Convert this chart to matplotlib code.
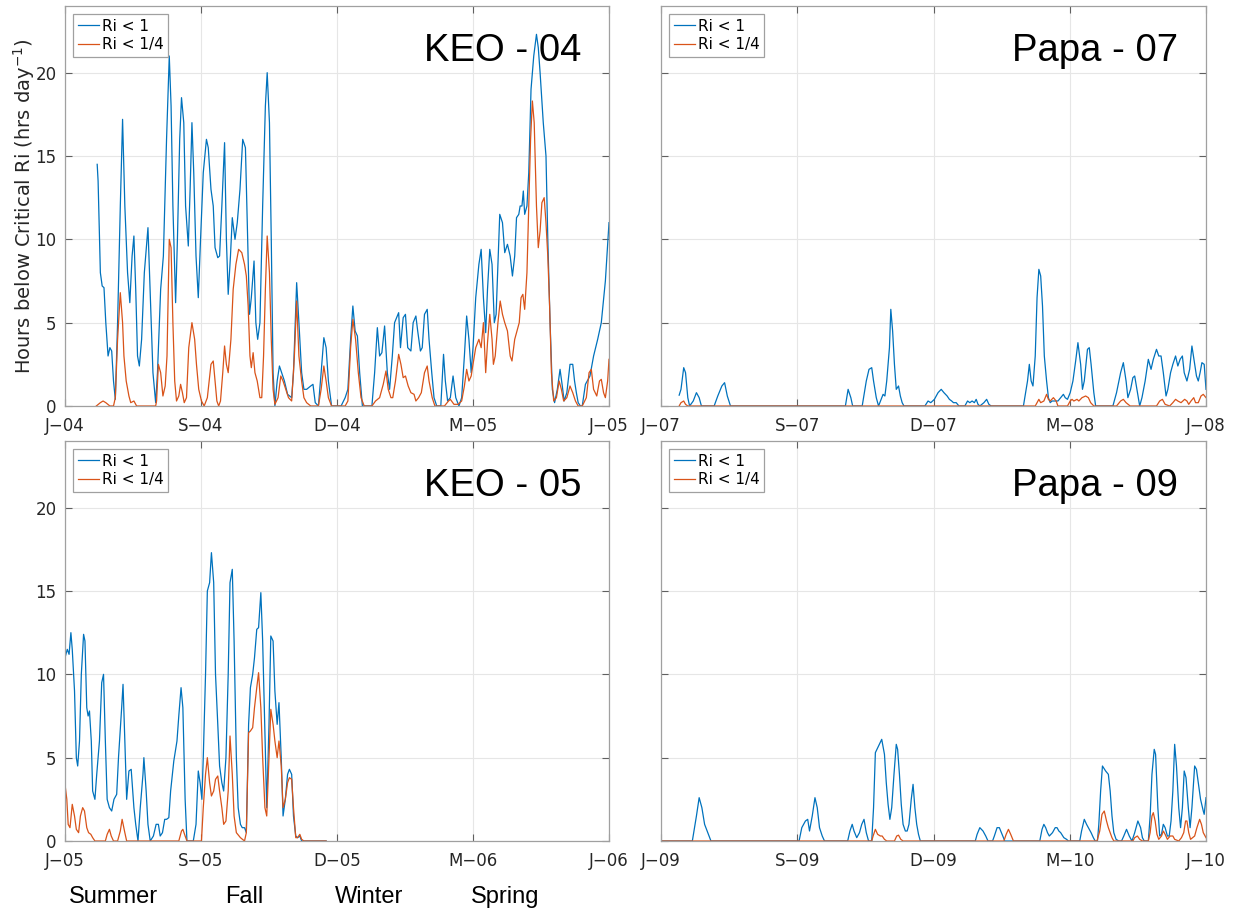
import matplotlib
matplotlib.use('Agg')
import matplotlib.pyplot as plt

# x = months since 1 June of the deployment year, y = hours per day
keo04_ri1 = [(0.71,14.5),(0.73,13.5),(0.78,8.0),(0.82,7.2),(0.86,7.1),(0.90,5.0),(0.95,3.0),(0.99,3.5),(1.03,3.3),
    (1.07,1.5),(1.11,0.4),(1.16,5.0),(1.22,12.0),(1.27,17.2),(1.32,12.0),(1.38,8.0),(1.43,6.2),(1.48,9.0),(1.52,10.2),
    (1.56,7.0),(1.60,3.0),(1.64,2.4),(1.69,4.0),(1.75,8.0),(1.83,10.7),(1.89,6.0),(1.94,2.0),(2.00,0.2),(2.04,2.0),
    (2.11,7.0),(2.17,9.0),(2.24,16.0),(2.30,21.0),(2.34,18.0),(2.38,12.0),(2.44,6.2),(2.48,10.0),(2.53,16.0),(2.57,18.5),
    (2.62,17.0),(2.66,12.0),(2.72,9.6),(2.76,13.0),(2.80,17.0),(2.84,14.0),(2.89,9.0),(2.94,6.5),(2.99,10.0),(3.05,14.0),
    (3.12,16.0),(3.16,15.5),(3.22,13.0),(3.27,12.0),(3.31,9.5),(3.37,8.9),(3.41,9.0),(3.46,12.0),(3.52,15.8),(3.56,10.0),
    (3.60,6.7),(3.65,9.0),(3.69,11.3),(3.75,10.0),(3.80,11.0),(3.86,13.0),(3.92,16.0),(3.98,15.5),(4.03,10.0),(4.07,5.5),
    (4.11,6.5),(4.17,8.7),(4.21,5.0),(4.25,4.0),(4.30,5.0),(4.36,12.0),(4.42,18.0),(4.46,20.0),(4.51,17.0),(4.55,10.0),
    (4.59,2.0),(4.63,0.0),(4.68,1.5),(4.73,2.4),(4.78,2.0),(4.84,1.5),(4.91,0.7),(5.00,0.5),(5.04,2.0),(5.08,5.0),
    (5.11,7.4),(5.16,5.0),(5.22,2.0),(5.27,1.0),(5.33,1.0),(5.42,1.2),(5.47,1.3),(5.52,0.2),(5.59,0.0),(5.65,2.0),
    (5.71,4.1),(5.76,3.5),(5.81,1.5),(5.88,0.0),(6.09,0.0),(6.18,0.5),(6.24,1.0),(6.30,4.0),(6.35,6.0),(6.40,4.5),
    (6.45,4.2),(6.50,2.0),(6.56,0.0),(6.77,0.0),(6.83,2.0),(6.89,4.7),(6.94,3.0),(6.99,3.2),(7.05,4.8),(7.11,2.0),
    (7.16,1.0),(7.22,3.0),(7.27,5.0),(7.36,5.6),(7.40,3.5),(7.46,5.3),(7.51,5.5),(7.56,3.5),(7.63,3.3),(7.68,5.0),
    (7.74,5.4),(7.78,4.5),(7.84,3.3),(7.88,3.5),(7.93,5.5),(7.99,5.8),(8.03,4.0),(8.09,2.0),(8.14,0.5),(8.20,0.0),
    (8.29,0.0),(8.35,3.1),(8.39,1.5),(8.44,0.3),(8.50,0.5),(8.56,1.8),(8.62,0.5),(8.69,0.0),(8.75,0.5),(8.81,3.0),
    (8.86,5.4),(8.91,4.0),(8.96,2.0),(9.00,3.5),(9.06,6.5),(9.13,8.5),(9.18,9.4),(9.23,6.5),(9.28,4.4),(9.32,7.0),
    (9.37,9.4),(9.42,8.5),(9.47,5.0),(9.51,5.5),(9.55,8.5),(9.59,11.5),(9.65,11.0),(9.70,9.2),(9.76,9.7),(9.82,9.0),
    (9.87,7.8),(9.92,9.0),(9.96,11.3),(10.01,11.5),(10.04,12.0),(10.08,12.0),(10.11,12.9),(10.14,11.5),(10.19,12.0),
    (10.23,14.0),(10.28,19.0),(10.34,21.0),(10.40,22.3),(10.44,21.5),(10.48,20.0),(10.55,17.0),(10.61,15.0),(10.65,10.0),
    (10.70,5.0),(10.75,1.0),(10.80,0.2),(10.86,1.0),(10.92,2.2),(10.97,1.2),(11.01,0.3),(11.07,0.8),(11.14,2.5),
    (11.20,2.5),(11.24,1.5),(11.28,0.8),(11.32,0.2),(11.37,0.0),(11.41,0.0),(11.48,1.3),(11.58,1.8),(11.66,3.0),
    (11.75,4.0),(11.83,5.0),(11.92,7.5),(12.00,11.0)]
keo04_ri14 = [(0.69,0.0),(0.78,0.2),(0.84,0.3),(0.90,0.2),(0.99,0.0),(1.07,0.0),(1.11,0.5),(1.16,4.0),(1.22,6.8),
    (1.27,5.0),(1.30,3.0),(1.35,1.5),(1.41,0.6),(1.45,0.2),(1.52,0.3),(1.58,0.0),(2.00,0.0),(2.02,0.3),(2.06,2.5),
    (2.11,2.0),(2.16,0.6),(2.21,1.2),(2.25,3.0),(2.30,10.0),(2.34,9.5),(2.38,5.0),(2.42,1.5),(2.46,0.3),(2.51,0.6),
    (2.55,1.3),(2.59,0.8),(2.63,0.2),(2.68,0.5),(2.73,3.5),(2.80,5.0),(2.86,4.0),(2.90,2.5),(2.95,1.0),(3.01,0.3),
    (3.07,0.0),(3.14,0.5),(3.22,2.5),(3.27,2.7),(3.31,1.5),(3.35,0.3),(3.39,0.0),(3.43,0.3),(3.48,2.0),(3.52,3.6),
    (3.56,2.5),(3.60,2.0),(3.66,4.0),(3.71,7.0),(3.77,8.5),(3.83,9.4),(3.90,9.2),(3.96,8.5),(4.00,7.8),(4.04,6.0),
    (4.08,3.0),(4.11,2.3),(4.15,3.2),(4.19,2.0),(4.24,1.5),(4.30,0.5),(4.34,0.5),(4.38,3.0),(4.42,7.0),(4.46,10.2),
    (4.51,8.0),(4.55,4.0),(4.59,1.0),(4.63,0.1),(4.70,0.5),(4.76,1.8),(4.81,1.5),(4.87,1.0),(4.93,0.5),(5.00,0.3),
    (5.06,3.0),(5.11,6.3),(5.16,3.0),(5.22,1.5),(5.27,0.5),(5.33,0.2),(5.42,0.0),(5.59,0.0),(5.65,1.0),(5.71,2.4),
    (5.76,1.5),(5.81,0.5),(5.88,0.0),(6.18,0.0),(6.24,0.3),(6.30,3.5),(6.35,5.2),(6.41,4.0),(6.47,2.0),(6.53,0.5),
    (6.60,0.0),(6.77,0.0),(6.85,0.3),(6.94,0.5),(7.02,1.3),(7.08,2.1),(7.13,1.0),(7.19,0.5),(7.23,0.5),(7.29,1.5),
    (7.36,3.1),(7.41,2.5),(7.46,1.7),(7.51,1.8),(7.57,1.2),(7.63,0.8),(7.70,0.7),(7.74,0.3),(7.80,0.5),(7.86,0.8),
    (7.93,2.0),(7.99,2.4),(8.03,1.5),(8.10,0.5),(8.16,0.0),(8.37,0.0),(8.46,0.3),(8.50,0.4),(8.58,0.1),(8.67,0.1),
    (8.75,0.3),(8.81,1.2),(8.86,2.2),(8.91,1.5),(8.96,1.8),(9.00,2.5),(9.06,3.5),(9.13,4.0),(9.18,3.5),(9.23,5.0),
    (9.28,2.0),(9.32,3.8),(9.37,5.5),(9.42,4.0),(9.45,2.5),(9.49,3.0),(9.55,5.0),(9.60,6.3),(9.65,5.5),(9.70,5.0),
    (9.76,4.5),(9.82,3.0),(9.86,2.7),(9.92,4.0),(9.96,4.4),(10.02,5.0),(10.06,6.5),(10.10,6.7),(10.14,5.8),(10.19,8.0),
    (10.23,12.0),(10.27,16.0),(10.31,18.3),(10.35,17.0),(10.40,12.0),(10.44,9.5),(10.48,10.5),(10.52,12.2),(10.57,12.5),
    (10.61,11.0),(10.65,9.0),(10.69,6.0),(10.73,2.0),(10.78,0.3),(10.84,0.5),(10.90,1.5),(10.95,1.0),(11.00,0.3),
    (11.07,0.5),(11.14,1.2),(11.20,0.8),(11.26,0.3),(11.32,0.0),(11.41,0.0),(11.50,0.5),(11.56,2.0),(11.61,2.2),
    (11.66,1.0),(11.73,0.6),(11.79,1.5),(11.83,1.6),(11.88,0.8),(11.92,0.5),(11.97,1.5),(12.00,2.8)]

papa07_ri1 = [(0.40,0.65),(0.44,1.0),(0.50,2.3),(0.54,2.0),(0.59,0.5),(0.63,0.0),(0.71,0.3),(0.78,0.8),(0.84,0.5),
    (0.89,0.0),(1.17,0.0),(1.25,0.6),(1.34,1.2),(1.40,1.4),(1.46,0.6),(1.53,0.0),(4.06,0.0),(4.12,1.0),(4.18,0.5),
    (4.22,0.0),(4.43,0.0),(4.52,1.5),(4.58,2.2),(4.64,2.3),(4.68,1.5),(4.74,0.5),(4.79,0.0),(4.86,0.5),(4.89,0.7),
    (4.93,0.6),(4.97,1.5),(5.03,3.5),(5.06,5.8),(5.10,4.5),(5.14,2.5),(5.18,1.0),(5.23,1.2),(5.27,0.6),(5.31,0.2),
    (5.35,0.0),(5.81,0.0),(5.88,0.3),(5.94,0.2),(6.02,0.4),(6.10,0.8),(6.17,1.0),(6.23,0.8),(6.30,0.6),(6.35,0.4),
    (6.40,0.3),(6.44,0.2),(6.50,0.2),(6.56,0.0),(6.69,0.0),(6.75,0.3),(6.80,0.2),(6.85,0.3),(6.90,0.2),(6.94,0.4),
    (6.98,0.1),(7.02,0.0),(7.11,0.2),(7.17,0.4),(7.22,0.1),(7.27,0.0),(7.98,0.0),(8.07,1.5),(8.11,2.5),(8.15,1.5),
    (8.19,1.2),(8.24,3.0),(8.28,6.5),(8.32,8.2),(8.36,7.8),(8.40,6.0),(8.44,3.0),(8.49,1.5),(8.53,0.5),(8.57,0.2),
    (8.61,0.3),(8.70,0.3),(8.74,0.3),(8.80,0.5),(8.86,0.7),(8.90,0.5),(8.95,0.4),(9.01,0.8),(9.07,1.5),(9.13,2.7),
    (9.18,3.8),(9.24,2.5),(9.28,1.0),(9.32,1.5),(9.39,3.4),(9.43,3.5),(9.47,2.5),(9.53,0.8),(9.57,0.0),(9.95,0.0),
    (10.03,0.8),(10.12,2.0),(10.18,2.6),(10.24,1.5),(10.28,0.5),(10.34,1.0),(10.39,1.7),(10.43,1.8),(10.49,0.8),
    (10.54,0.0),(10.59,0.5),(10.66,1.5),(10.73,2.8),(10.79,2.2),(10.84,2.8),(10.91,3.4),(10.96,3.0),(11.01,3.0),
    (11.06,2.0),(11.12,0.6),(11.16,1.0),(11.22,2.0),(11.27,2.5),(11.33,3.0),(11.38,2.4),(11.43,2.8),(11.48,3.0),
    (11.52,2.0),(11.58,1.5),(11.64,2.2),(11.69,3.6),(11.75,2.5),(11.79,1.8),(11.83,1.5),(11.87,2.0),(11.91,2.6),
    (11.96,2.5),(12.00,1.0)]
papa07_ri14 = [(0.40,0.0),(0.44,0.2),(0.50,0.3),(0.54,0.1),(0.59,0.0),(8.24,0.0),(8.28,0.2),(8.32,0.4),(8.36,0.2),
    (8.43,0.3),(8.49,0.7),(8.53,0.4),(8.57,0.3),(8.64,0.5),(8.70,0.3),(8.74,0.0),(8.95,0.0),(9.01,0.3),(9.05,0.4),
    (9.09,0.3),(9.16,0.4),(9.20,0.3),(9.27,0.5),(9.35,0.6),(9.41,0.5),(9.46,0.2),(9.53,0.0),(10.03,0.0),(10.12,0.3),
    (10.18,0.4),(10.24,0.2),(10.33,0.0),(10.91,0.0),(10.98,0.3),(11.04,0.4),(11.10,0.1),(11.20,0.0),(11.27,0.2),
    (11.33,0.4),(11.38,0.3),(11.45,0.2),(11.53,0.4),(11.58,0.3),(11.62,0.1),(11.67,0.3),(11.73,0.5),(11.77,0.2),
    (11.83,0.2),(11.89,0.6),(11.94,0.7),(12.00,0.5)]

keo05_ri1 = [(0.00,11.0),(0.05,11.5),(0.09,11.2),(0.13,12.5),(0.16,11.5),(0.21,9.0),(0.25,5.0),(0.28,4.5),(0.32,6.0),
    (0.36,10.0),(0.41,12.4),(0.44,12.0),(0.48,8.0),(0.51,7.5),(0.54,7.8),(0.58,6.0),(0.61,3.0),(0.66,2.5),(0.70,4.0),
    (0.76,6.0),(0.81,9.5),(0.85,10.0),(0.89,6.0),(0.93,2.5),(0.98,2.0),(1.03,1.8),(1.08,2.5),(1.14,2.8),(1.18,5.0),
    (1.25,8.0),(1.28,9.4),(1.32,6.0),(1.36,2.5),(1.41,4.2),(1.46,4.3),(1.52,2.0),(1.56,1.0),(1.61,0.0),(1.66,2.0),
    (1.72,4.0),(1.74,5.0),(1.79,3.0),(1.83,1.0),(1.88,0.0),(1.95,0.3),(2.01,1.0),(2.06,1.0),(2.10,0.3),(2.15,0.5),
    (2.20,1.3),(2.24,1.3),(2.29,1.4),(2.33,3.0),(2.40,4.8),(2.47,6.0),(2.51,7.5),(2.56,9.2),(2.60,8.0),(2.65,2.5),
    (2.69,0.0),(2.83,0.0),(2.89,1.0),(2.94,4.2),(2.98,3.5),(3.02,2.5),(3.05,5.0),(3.10,10.0),(3.14,15.0),(3.19,15.5),
    (3.23,17.3),(3.28,15.5),(3.32,10.0),(3.37,7.0),(3.41,4.5),(3.46,3.5),(3.50,3.0),(3.55,5.0),(3.60,10.0),(3.64,15.5),
    (3.69,16.3),(3.73,12.0),(3.78,5.0),(3.82,2.0),(3.87,1.0),(3.91,0.8),(3.96,0.8),(4.00,0.5),(4.05,7.0),(4.09,9.2),
    (4.14,10.0),(4.18,11.0),(4.23,12.7),(4.27,12.8),(4.32,14.9),(4.36,12.0),(4.41,6.5),(4.45,2.0),(4.50,7.0),
    (4.54,12.3),(4.59,12.0),(4.63,9.0),(4.68,7.0),(4.72,8.3),(4.77,5.0),(4.81,1.5),(4.86,2.5),(4.91,4.0),(4.95,4.3),
    (5.00,4.0),(5.04,1.5),(5.09,0.3),(5.13,0.2),(5.18,0.3),(5.22,0.0),(5.76,0.0)]
keo05_ri14 = [(0.00,3.4),(0.04,2.5),(0.07,1.0),(0.11,0.8),(0.16,2.2),(0.21,1.5),(0.25,0.7),(0.30,0.5),(0.34,1.5),
    (0.39,2.0),(0.43,1.8),(0.48,0.8),(0.52,0.5),(0.57,0.4),(0.61,0.2),(0.66,0.0),(0.89,0.0),(0.93,0.4),(0.98,0.7),
    (1.02,0.3),(1.07,0.0),(1.16,0.0),(1.22,0.6),(1.26,1.3),(1.32,0.5),(1.36,0.0),(2.51,0.0),(2.57,0.6),(2.60,0.7),
    (2.65,0.3),(2.69,0.0),(3.01,0.0),(3.05,2.0),(3.10,4.0),(3.14,5.0),(3.19,3.5),(3.23,2.7),(3.28,3.0),(3.32,3.7),
    (3.37,3.9),(3.41,3.0),(3.46,2.0),(3.50,1.0),(3.55,1.2),(3.60,3.0),(3.64,6.3),(3.69,4.0),(3.73,1.5),(3.78,0.5),
    (3.87,0.2),(3.96,0.0),(4.00,0.5),(4.05,6.5),(4.09,6.6),(4.14,6.8),(4.18,8.0),(4.23,9.2),(4.27,10.1),(4.32,8.0),
    (4.36,5.0),(4.41,2.0),(4.45,1.5),(4.50,5.0),(4.54,7.9),(4.59,7.0),(4.63,6.0),(4.68,5.0),(4.72,6.0),(4.77,4.5),
    (4.81,2.0),(4.86,2.5),(4.91,3.5),(4.95,3.8),(5.00,3.7),(5.04,2.0),(5.09,0.2),(5.13,0.2),(5.18,0.4),(5.22,0.1),
    (5.27,0.0),(5.76,0.0)]

papa09_ri1 = [(0.00,0.0),(0.69,0.0),(0.78,1.5),(0.84,2.6),(0.90,2.0),(0.96,1.0),(1.03,0.5),(1.10,0.0),(3.04,0.0),
    (3.10,0.8),(3.18,1.2),(3.23,1.3),(3.27,0.6),(3.33,1.5),(3.39,2.6),(3.44,2.0),(3.49,0.8),(3.55,0.3),(3.60,0.0),
    (4.11,0.0),(4.16,0.6),(4.21,1.0),(4.25,0.6),(4.31,0.2),(4.37,0.5),(4.42,1.0),(4.47,1.3),(4.52,0.5),(4.57,0.0),
    (4.64,0.0),(4.68,2.0),(4.72,5.3),(4.79,5.7),(4.86,6.1),(4.92,5.2),(4.96,3.5),(5.00,2.2),(5.04,1.3),(5.08,2.0),
    (5.13,4.0),(5.18,5.8),(5.21,5.5),(5.25,4.0),(5.29,2.2),(5.33,1.0),(5.38,0.6),(5.42,0.6),(5.46,1.0),(5.51,2.5),
    (5.55,3.4),(5.59,2.0),(5.63,1.0),(5.67,0.4),(5.71,0.0),(6.92,0.0),(6.96,0.4),(7.02,0.8),(7.09,0.6),(7.15,0.3),
    (7.20,0.0),(7.30,0.0),(7.34,0.3),(7.40,0.8),(7.45,0.8),(7.51,0.4),(7.57,0.0),(8.34,0.0),(8.39,0.7),(8.43,1.0),
    (8.47,0.8),(8.51,0.5),(8.55,0.3),(8.62,0.5),(8.68,0.8),(8.72,0.8),(8.76,0.6),(8.80,0.5),(8.87,0.2),(8.93,0.1),
    (8.97,0.0),(9.22,0.0),(9.26,0.6),(9.32,1.3),(9.37,1.0),(9.43,0.7),(9.47,0.5),(9.52,0.2),(9.56,0.0),(9.61,0.0),
    (9.64,1.0),(9.68,3.0),(9.72,4.5),(9.79,4.2),(9.85,4.0),(9.89,3.0),(9.93,1.5),(9.97,0.5),(10.02,0.1),(10.08,0.0),
    (10.14,0.0),(10.19,0.3),(10.25,0.7),(10.31,0.3),(10.37,0.0),(10.43,0.5),(10.50,1.2),(10.56,0.8),(10.60,0.2),
    (10.64,0.0),(10.73,0.0),(10.77,1.5),(10.81,4.0),(10.86,5.5),(10.89,5.2),(10.94,2.0),(10.98,0.3),(11.02,0.4),
    (11.06,1.0),(11.10,0.8),(11.15,0.3),(11.19,0.3),(11.23,1.2),(11.27,3.0),(11.31,5.8),(11.35,4.5),(11.40,2.0),
    (11.44,0.8),(11.48,2.0),(11.52,4.2),(11.56,3.8),(11.61,2.0),(11.65,0.8),(11.69,2.0),(11.75,4.5),(11.79,4.3),
    (11.83,3.5),(11.88,2.5),(11.94,1.8),(11.96,1.6),(12.00,2.6)]
papa09_ri14 = [(0.00,0.0),(4.64,0.0),(4.67,0.3),(4.72,0.7),(4.77,0.4),(4.83,0.3),(4.87,0.3),(4.92,0.1),(4.97,0.0),
    (5.14,0.0),(5.19,0.3),(5.23,0.35),(5.28,0.1),(5.33,0.0),(7.55,0.0),(7.60,0.4),(7.65,0.7),(7.70,0.4),(7.76,0.0),
    (9.60,0.0),(9.66,0.6),(9.71,1.6),(9.76,1.8),(9.81,1.2),(9.85,0.8),(9.89,0.5),(9.93,0.2),(9.97,0.0),(10.39,0.0),
    (10.43,0.2),(10.49,0.3),(10.54,0.1),(10.60,0.0),(10.73,0.0),(10.77,0.5),(10.81,1.5),(10.84,1.7),(10.88,1.2),
    (10.92,0.4),(10.96,0.1),(11.02,0.3),(11.06,0.6),(11.10,0.4),(11.15,0.1),(11.21,0.3),(11.27,0.3),(11.31,0.1),
    (11.40,0.0),(11.46,0.2),(11.51,0.5),(11.55,1.2),(11.58,1.2),(11.62,0.5),(11.66,0.1),(11.75,0.3),(11.80,0.8),
    (11.86,1.3),(11.90,1.0),(11.94,0.5),(12.00,0.2)]

panel_names = ['KEO - 04', 'Papa - 07', 'KEO - 05', 'Papa - 09']
tick_months = [0, 3, 6, 9, 12]
tick_labels = [['J\u221204', 'S\u221204', 'D\u221204', 'M\u221205', 'J\u221205'],
               ['J\u221207', 'S\u221207', 'D\u221207', 'M\u221208', 'J\u221208'],
               ['J\u221205', 'S\u221205', 'D\u221205', 'M\u221206', 'J\u221206'],
               ['J\u221209', 'S\u221209', 'D\u221209', 'M\u221210', 'J\u221210']]
seasons = ['Summer', 'Fall', 'Winter', 'Spring']
season_x = [113, 244, 369, 505]  # pixel centres under the lower left panel

blue = '#0072BD'
orange = '#D95319'

W, H = 1233, 909
fig = plt.figure(figsize=(W / 100, H / 100), dpi=100)

# axes boxes in pixels: left, top, width, height
boxes = [(65, 6, 544, 400), (661, 6, 545, 400), (65, 441, 544, 400), (661, 441, 545, 400)]
series = [(keo04_ri1, keo04_ri14), (papa07_ri1, papa07_ri14),
          (keo05_ri1, keo05_ri14), (papa09_ri1, papa09_ri14)]

for i in range(4):
    l, t, w, h = boxes[i]
    ax = fig.add_axes([l / W, (H - t - h) / H, w / W, h / H])
    s1, s2 = series[i]
    x1, y1 = zip(*s1)
    x2, y2 = zip(*s2)
    ax.plot(x1, y1, color=blue, lw=0.9, label='Ri < 1')
    ax.plot(x2, y2, color=orange, lw=0.9, label='Ri < 1/4')
    ax.set_xlim(0, 12)
    ax.set_ylim(0, 24)
    ax.set_xticks(tick_months)
    ax.set_xticklabels(tick_labels[i])
    ax.set_yticks([0, 5, 10, 15, 20])
    if i % 2 == 1:
        ax.set_yticklabels([])
    ax.grid(True, color='#e6e6e6', lw=0.8)
    ax.set_axisbelow(True)
    for sp in ax.spines.values():
        sp.set_color('#a0a0a0')
        sp.set_linewidth(0.9)
    ax.tick_params(direction='in', length=5, width=0.8, color='#606060',
                   top=True, right=True, labelsize=12, labelcolor='#262626')
    ax.tick_params(axis='x', pad=8)
    ax.tick_params(axis='y', pad=6)
    leg = ax.legend(loc='upper left', bbox_to_anchor=(8 / w, 1 - 8 / h), borderaxespad=0,
                    fontsize=11, handlelength=1.4, handletextpad=0.2, borderpad=0.3,
                    labelspacing=0.25, fancybox=False, framealpha=1, edgecolor='#a0a0a0')
    leg.get_frame().set_linewidth(0.9)
    ax.text(0.949, 0.862, panel_names[i], transform=ax.transAxes, ha='right', va='baseline',
            fontsize=27.5, family='Liberation Sans', color='black')
    if i == 0:
        ax.set_ylabel('Hours below Critical Ri (hrs day$^{-1}$)', fontsize=14, color='#262626')
        ax.yaxis.set_label_coords(-0.052, 0.5)

for k in range(4):
    fig.text(season_x[k] / W, (H - 903) / H, seasons[k], ha='center', va='baseline',
             fontsize=17, family='Liberation Sans', color='black')

fig.savefig('out.png', dpi=100)
